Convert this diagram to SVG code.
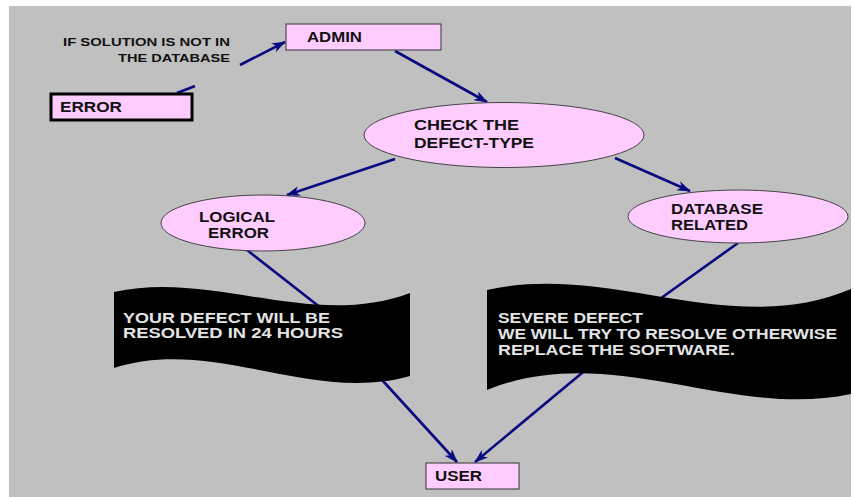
<svg xmlns="http://www.w3.org/2000/svg" width="854" height="497" viewBox="0 0 854 497">
<defs>
<style>
.t{font-family:"Liberation Sans",Arial,sans-serif;font-weight:bold;fill:#111;}
.lbl{font-size:14px;}
.sm{font-size:10.5px;}
.ban{font-family:"Liberation Sans",Arial,sans-serif;font-weight:bold;font-size:14px;fill:#e4e4e4;}
.box{fill:#ffccff;stroke:#333;stroke-width:1;}
.ell{fill:#ffccff;stroke:#444;stroke-width:1;}
.con{stroke:#0a0a80;stroke-width:2.6;fill:none;}
.arr{marker-end:url(#ah);}
</style>
<marker id="ah" viewBox="0 0 14 10" refX="13" refY="5" markerWidth="14" markerHeight="10" markerUnits="userSpaceOnUse" orient="auto">
<path d="M0,0 L14,5 L0,10 L4,5 z" fill="#0a0a80"/>
</marker>
</defs>
<rect x="0" y="0" width="854" height="497" fill="#ffffff"/>
<rect x="9" y="6" width="842" height="491" fill="#c0c0c0"/>

<g id="connectors">
<line class="con" x1="177" y1="93" x2="195" y2="86"/>
<line class="con arr" x1="240" y1="65" x2="285" y2="42"/>
<line class="con arr" x1="395" y1="51" x2="487" y2="102"/>
<line class="con arr" x1="395" y1="159" x2="287" y2="195"/>
<line class="con arr" x1="615" y1="158" x2="690" y2="191"/>
<line class="con" x1="238" y1="243" x2="330" y2="315"/>
<line class="con" x1="738" y1="243" x2="650" y2="306"/>
<line class="con arr" x1="362" y1="358" x2="457" y2="462"/>
<line class="con arr" x1="600" y1="358" x2="475" y2="462"/>
</g>

<g id="note">
<text class="t sm" x="230" y="46" text-anchor="end" textLength="167" lengthAdjust="spacingAndGlyphs">IF SOLUTION IS NOT IN</text>
<text class="t sm" x="230" y="62" text-anchor="end" textLength="112" lengthAdjust="spacingAndGlyphs">THE DATABASE</text>
</g>

<g id="admin">
<rect class="box" x="286" y="24" width="155" height="26"/>
<text class="t lbl" x="307" y="42" textLength="55" lengthAdjust="spacingAndGlyphs">ADMIN</text>
</g>

<g id="error">
<rect x="51" y="94" width="141" height="26" fill="#ffccff" stroke="#000" stroke-width="3"/>
<text class="t lbl" x="60" y="112" textLength="62" lengthAdjust="spacingAndGlyphs">ERROR</text>
</g>

<g id="check">
<ellipse class="ell" cx="504" cy="135" rx="140" ry="32.5"/>
<text class="t lbl" x="414" y="130" textLength="105" lengthAdjust="spacingAndGlyphs">CHECK  THE</text>
<text class="t lbl" x="414" y="148" textLength="120" lengthAdjust="spacingAndGlyphs">DEFECT-TYPE</text>
</g>

<g id="logical">
<ellipse class="ell" cx="263" cy="223" rx="102" ry="28"/>
<text class="t lbl" x="199" y="222" textLength="76" lengthAdjust="spacingAndGlyphs">LOGICAL</text>
<text class="t lbl" x="208" y="238" textLength="61" lengthAdjust="spacingAndGlyphs">ERROR</text>
</g>

<g id="database">
<ellipse class="ell" cx="738" cy="216.5" rx="110" ry="26.5"/>
<text class="t lbl" x="671" y="214" textLength="92" lengthAdjust="spacingAndGlyphs">DATABASE</text>
<text class="t lbl" x="671" y="230" textLength="77" lengthAdjust="spacingAndGlyphs">RELATED</text>
</g>

<g id="banner-left">
<path d="M114,292 C213,270 311,330 410,293 L410,376 C311,404 213,336 114,368 Z" fill="#000"/>
<text class="ban" x="123" y="323" textLength="207" lengthAdjust="spacingAndGlyphs">YOUR  DEFECT  WILL BE</text>
<text class="ban" x="123" y="338" textLength="220" lengthAdjust="spacingAndGlyphs">RESOLVED  IN  24  HOURS</text>
</g>

<g id="banner-right">
<path d="M487,290 C610,262 730,340 851,289 L851,394 C730,420 610,340 487,390 Z" fill="#000"/>
<text class="ban" x="498" y="323" textLength="145" lengthAdjust="spacingAndGlyphs">SEVERE DEFECT</text>
<text class="ban" x="498" y="339" textLength="339" lengthAdjust="spacingAndGlyphs">WE WILL TRY TO RESOLVE  OTHERWISE</text>
<text class="ban" x="498" y="355" textLength="237" lengthAdjust="spacingAndGlyphs">REPLACE  THE  SOFTWARE.</text>
</g>

<g id="user">
<rect class="box" x="426" y="463" width="93" height="26"/>
<text class="t lbl" x="435" y="481" textLength="47" lengthAdjust="spacingAndGlyphs">USER</text>
</g>
</svg>
